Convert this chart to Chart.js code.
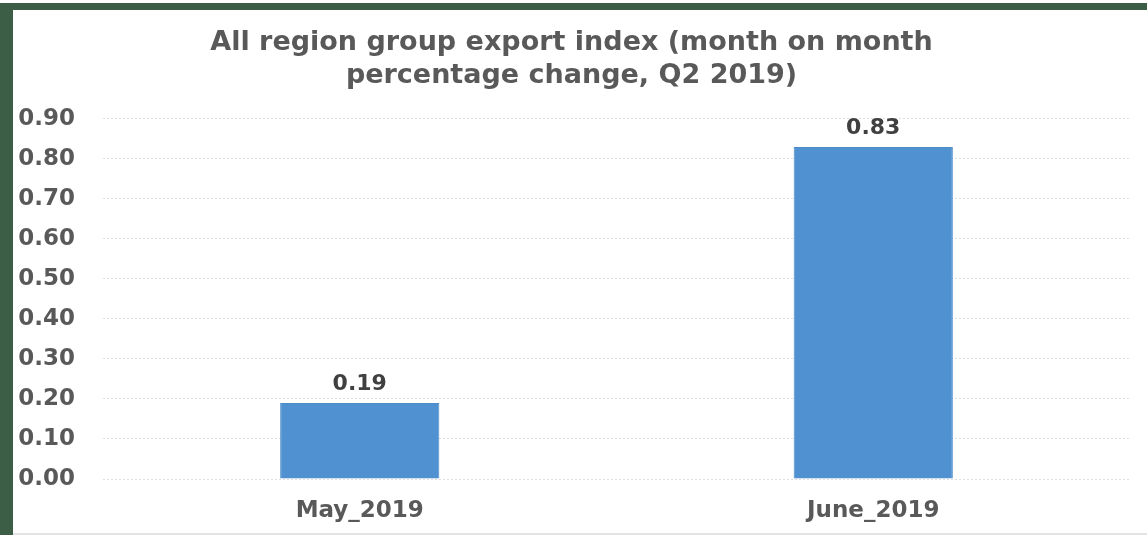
<!DOCTYPE html>
<html>
<head>
<meta charset="utf-8">
<script src="https://cdn.jsdelivr.net/npm/chart.js@4/dist/chart.umd.min.js"></script>
<style>
  html, body { margin: 0; padding: 0; background: #fff; }
  #frame {
    position: absolute; left: 0; top: 3px; width: 1147px; height: 532px;
    border-left: 13px solid #3c5e47; border-top: 7px solid #3c5e47;
    box-sizing: border-box; background: #fff;
  }
  #wrap { position: absolute; left: 0; top: 0; width: 1134px; height: 523px; }
  #base { position: absolute; left: 0; top: 523px; width: 1134px; height: 2px; background: #e4e4e4; }
</style>
</head>
<body>
<div id="frame"><div id="wrap"><canvas id="chart"></canvas></div><div id="base"></div></div>
<script>
(function () {
  'use strict';

  var months = ['May_2019', 'June_2019'];
  var changes = [0.19, 0.83];
  var titleLines = ['All region group export index (month on month', 'percentage change, Q2 2019)'];

  var fontFamily = '"DejaVu Sans", Verdana, sans-serif';

  var valueLabels = {
    id: 'valueLabels',
    afterDatasetsDraw: function (chart) {
      var ctx = chart.ctx;
      var meta = chart.getDatasetMeta(0);
      ctx.save();
      ctx.fillStyle = '#404040';
      ctx.font = 'bold 22px ' + fontFamily;
      ctx.textAlign = 'center';
      ctx.textBaseline = 'bottom';
      meta.data.forEach(function (bar, i) {
        ctx.fillText(changes[i].toFixed(2), bar.x, bar.y - 8);
      });
      ctx.restore();
    }
  };

  new Chart(document.getElementById('chart').getContext('2d'), {
    type: 'bar',
    data: {
      labels: months,
      datasets: [{
        data: changes,
        backgroundColor: '#4f91d1',
        borderColor: '#4a8bc8',
        borderWidth: 1,
        barPercentage: 0.31,
        categoryPercentage: 1
      }]
    },
    options: {
      responsive: true,
      maintainAspectRatio: false,
      animation: false,
      layout: { padding: { left: 0, right: 17, top: 17, bottom: 8 } },
      plugins: {
        legend: { display: false },
        tooltip: { enabled: false },
        title: {
          display: true,
          text: titleLines,
          color: '#595959',
          font: { family: fontFamily, size: 27, weight: 'bold', lineHeight: 1.22 },
          padding: { top: 0, bottom: 26 }
        }
      },
      scales: {
        y: {
          min: 0,
          max: 0.9,
          afterFit: function (scale) { scale.width = 90; },
          ticks: {
            stepSize: 0.1,
            color: '#595959',
            padding: 28,
            font: { family: fontFamily, size: 23, weight: 'bold' },
            callback: function (v) { return Number(v).toFixed(2); }
          },
          grid: { color: '#dedede', lineWidth: 1, drawTicks: false },
          border: { display: false, dash: [2, 2] }
        },
        x: {
          afterFit: function (scale) { scale.height = 46; },
          ticks: {
            color: '#595959',
            padding: 18,
            font: { family: fontFamily, size: 23, weight: 'bold' }
          },
          grid: { display: false, drawTicks: false },
          border: { display: false }
        }
      }
    },
    plugins: [valueLabels]
  });
})();
</script>
</body>
</html>
